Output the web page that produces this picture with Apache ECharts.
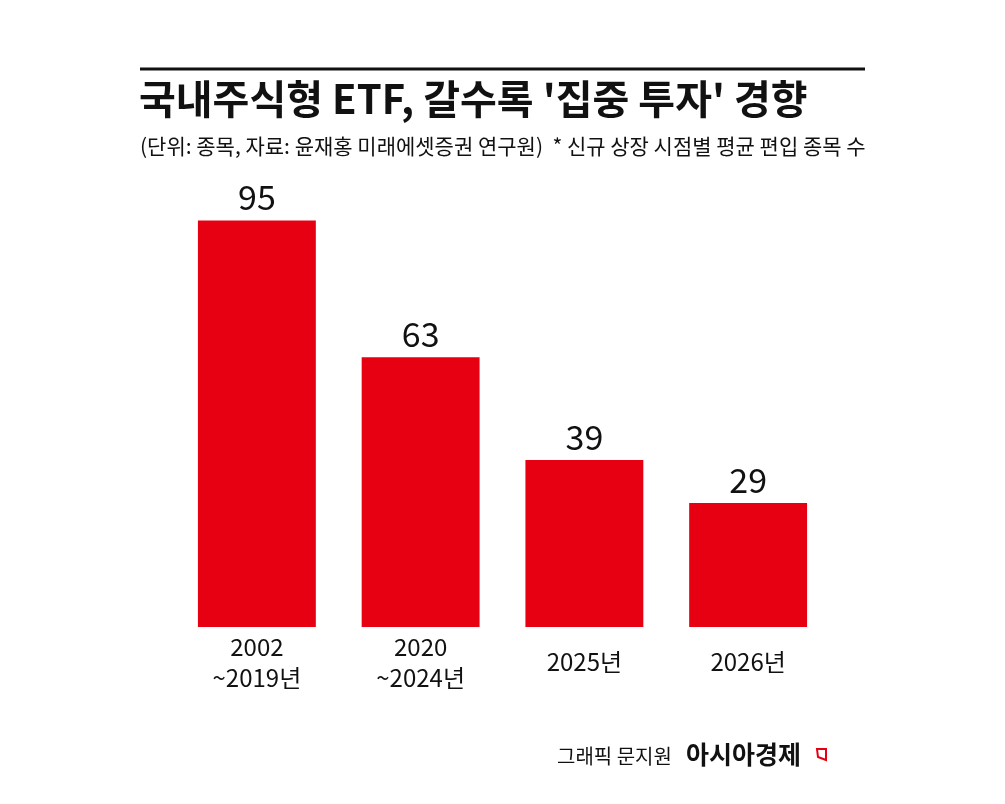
<!DOCTYPE html>
<html>
<head>
<meta charset="utf-8">
<script src="https://cdn.jsdelivr.net/npm/echarts@6/dist/echarts.min.js"></script>
<style>
  html, body { margin: 0; padding: 0; background: #ffffff; }
  #chart { width: 1005px; height: 804px; }
</style>
</head>
<body>
<div id="chart"></div>
<script>
const categories = ['2002\n~2019년', '2020\n~2024년', '2025년', '2026년'];
const values = [95, 63, 39, 29];
const titleText = "국내주식형 ETF, 갈수록 '집중 투자' 경향";
const subtitleText = "(단위: 종목, 자료: 윤재홍 미래에셋증권 연구원)  * 신규 상장 시점별 평균 편입 종목 수";
const creditText = "그래픽 문지원";
const brandText = "아시아경제";

const FONT = '"Noto Sans CJK KR", "Noto Sans", sans-serif';
const RED = '#e60012';

const chart = echarts.init(document.getElementById('chart'));
chart.setOption({
  backgroundColor: '#ffffff',
  animation: false,
  grid: { left: 175, right: 175, top: 199, bottom: 177 },
  xAxis: {
    type: 'category',
    data: categories,
    axisLine: { show: false },
    axisTick: { show: false },
    axisLabel: {
      color: '#111111',
      fontFamily: FONT,
      fontSize: 24,
      lineHeight: 31,
      verticalAlign: 'middle',
      margin: 35,
      interval: 0
    }
  },
  yAxis: {
    type: 'value',
    min: 0,
    max: 100,
    show: false,
    splitLine: { show: false }
  },
  series: [{
    type: 'bar',
    data: values,
    barWidth: '72%',
    itemStyle: { color: RED },
    label: {
      show: true,
      position: 'top',
      distance: 6,
      color: '#111111',
      fontFamily: FONT,
      fontSize: 34
    }
  }],
  graphic: [
    { type: 'line', shape: { x1: 140, y1: 69, x2: 865, y2: 69 }, style: { stroke: '#111111', lineWidth: 3 } },
    { type: 'text', left: 139, top: 79, style: { text: titleText, fontFamily: FONT, fontSize: 40, fontWeight: 'bold', fill: '#111111' } },
    { type: 'text', left: 140, top: 136, style: { text: subtitleText, fontFamily: FONT, fontSize: 21, fill: '#111111' } },
    { type: 'text', left: 557, top: 746, style: { text: creditText, fontFamily: FONT, fontSize: 20, fill: '#111111' } },
    { type: 'text', left: 686, top: 742, style: { text: brandText, fontFamily: FONT, fontSize: 25, fontWeight: 'bold', fill: '#111111' } },
    { type: 'polygon', shape: { points: [[817, 749], [826, 749], [826, 760], [818, 757]] }, style: { fill: 'none', stroke: RED, lineWidth: 2 } }
  ]
});
</script>
</body>
</html>
